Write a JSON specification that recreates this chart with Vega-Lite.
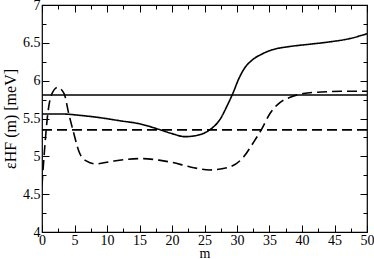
{
  "$schema": "https://vega.github.io/schema/vega-lite/v6.json",
  "width": 325,
  "height": 227,
  "autosize": {"type": "none"},
  "padding": {"left": 42, "top": 5, "right": 7, "bottom": 27},
  "background": "white",
  "config": {
    "view": {"stroke": "black", "strokeWidth": 1.2},
    "font": "Liberation Serif",
    "axis": {
      "domain": false,
      "grid": false,
      "tickColor": "black",
      "tickWidth": 1,
      "labelColor": "black",
      "labelFont": "Liberation Serif",
      "labelFontSize": 14,
      "titleFont": "Liberation Serif",
      "titleColor": "black",
      "titleFontWeight": "normal"
    }
  },
  "data": {
    "values": [
      {"m": 0, "v": 5.56, "series": "A", "style": "solid"},
      {"m": 3, "v": 5.56, "series": "A", "style": "solid"},
      {"m": 6, "v": 5.54, "series": "A", "style": "solid"},
      {"m": 9, "v": 5.51, "series": "A", "style": "solid"},
      {"m": 12, "v": 5.47, "series": "A", "style": "solid"},
      {"m": 15, "v": 5.43, "series": "A", "style": "solid"},
      {"m": 18.2, "v": 5.35, "series": "A", "style": "solid"},
      {"m": 20, "v": 5.3, "series": "A", "style": "solid"},
      {"m": 22, "v": 5.26, "series": "A", "style": "solid"},
      {"m": 24, "v": 5.28, "series": "A", "style": "solid"},
      {"m": 25.8, "v": 5.35, "series": "A", "style": "solid"},
      {"m": 27.4, "v": 5.49, "series": "A", "style": "solid"},
      {"m": 28.6, "v": 5.69, "series": "A", "style": "solid"},
      {"m": 29.4, "v": 5.84, "series": "A", "style": "solid"},
      {"m": 30.3, "v": 6.03, "series": "A", "style": "solid"},
      {"m": 31.2, "v": 6.17, "series": "A", "style": "solid"},
      {"m": 32.3, "v": 6.27, "series": "A", "style": "solid"},
      {"m": 33.8, "v": 6.35, "series": "A", "style": "solid"},
      {"m": 35.5, "v": 6.41, "series": "A", "style": "solid"},
      {"m": 38, "v": 6.45, "series": "A", "style": "solid"},
      {"m": 41, "v": 6.48, "series": "A", "style": "solid"},
      {"m": 44, "v": 6.51, "series": "A", "style": "solid"},
      {"m": 47, "v": 6.55, "series": "A", "style": "solid"},
      {"m": 50, "v": 6.62, "series": "A", "style": "solid"},
      {"m": 0, "v": 4.62, "series": "B", "style": "dashed"},
      {"m": 0.35, "v": 5.04, "series": "B", "style": "dashed"},
      {"m": 0.9, "v": 5.57, "series": "B", "style": "dashed"},
      {"m": 1.4, "v": 5.8, "series": "B", "style": "dashed"},
      {"m": 2.4, "v": 5.91, "series": "B", "style": "dashed"},
      {"m": 3.4, "v": 5.83, "series": "B", "style": "dashed"},
      {"m": 4.1, "v": 5.57, "series": "B", "style": "dashed"},
      {"m": 4.9, "v": 5.3, "series": "B", "style": "dashed"},
      {"m": 5.7, "v": 5.06, "series": "B", "style": "dashed"},
      {"m": 6.8, "v": 4.94, "series": "B", "style": "dashed"},
      {"m": 8.3, "v": 4.9, "series": "B", "style": "dashed"},
      {"m": 10.5, "v": 4.93, "series": "B", "style": "dashed"},
      {"m": 13, "v": 4.96, "series": "B", "style": "dashed"},
      {"m": 15.5, "v": 4.97, "series": "B", "style": "dashed"},
      {"m": 18, "v": 4.95, "series": "B", "style": "dashed"},
      {"m": 20, "v": 4.92, "series": "B", "style": "dashed"},
      {"m": 22.8, "v": 4.86, "series": "B", "style": "dashed"},
      {"m": 25.8, "v": 4.82, "series": "B", "style": "dashed"},
      {"m": 28.9, "v": 4.86, "series": "B", "style": "dashed"},
      {"m": 31, "v": 4.99, "series": "B", "style": "dashed"},
      {"m": 32.5, "v": 5.18, "series": "B", "style": "dashed"},
      {"m": 33.8, "v": 5.36, "series": "B", "style": "dashed"},
      {"m": 35.1, "v": 5.57, "series": "B", "style": "dashed"},
      {"m": 36.6, "v": 5.71, "series": "B", "style": "dashed"},
      {"m": 38.2, "v": 5.78, "series": "B", "style": "dashed"},
      {"m": 40.2, "v": 5.83, "series": "B", "style": "dashed"},
      {"m": 43, "v": 5.85, "series": "B", "style": "dashed"},
      {"m": 46, "v": 5.86, "series": "B", "style": "dashed"},
      {"m": 50, "v": 5.86, "series": "B", "style": "dashed"},
      {"m": 0, "v": 5.81, "series": "C", "style": "solid"},
      {"m": 50, "v": 5.81, "series": "C", "style": "solid"},
      {"m": 0, "v": 5.35, "series": "D", "style": "dashed"},
      {"m": 50, "v": 5.35, "series": "D", "style": "dashed"}
    ]
  },
  "layer": [
    {
      "mark": {"type": "line", "interpolate": "monotone", "color": "black", "strokeWidth": 1.6, "clip": true},
      "encoding": {
        "x": {
          "field": "m", "type": "quantitative",
          "scale": {"domain": [0, 50], "nice": false, "zero": false},
          "axis": {
            "orient": "bottom",
            "values": [0, 2.5, 5, 7.5, 10, 12.5, 15, 17.5, 20, 22.5, 25, 27.5, 30, 32.5, 35, 37.5, 40, 42.5, 45, 47.5, 50],
            "tickSize": {"condition": {"test": "datum.value % 5 === 0", "value": -7}, "value": -4},
            "labelPadding": 8,
            "labelExpr": "datum.value % 5 === 0 ? '' + datum.value : ''",
            "labelOverlap": false,
            "labelFlush": false,
            "title": "m",
            "titleFontSize": 14,
            "titlePadding": -4
          }
        },
        "y": {
          "field": "v", "type": "quantitative",
          "scale": {"domain": [4, 7], "nice": false, "zero": false},
          "axis": {
            "orient": "left",
            "values": [4, 4.25, 4.5, 4.75, 5, 5.25, 5.5, 5.75, 6, 6.25, 6.5, 6.75, 7],
            "tickSize": {"condition": {"test": "datum.value % 0.5 === 0", "value": -7}, "value": -4},
            "labelPadding": 9,
            "labelExpr": "datum.value % 0.5 === 0 ? '' + datum.value : ''",
            "labelOverlap": false,
            "labelFlush": false,
            "title": "εHF (m) [meV]",
            "titleFontSize": 16,
            "titlePadding": 4
          }
        },
        "detail": {"field": "series"},
        "strokeDash": {
          "field": "style", "type": "nominal",
          "scale": {"domain": ["solid", "dashed"], "range": [[1, 0], [10, 5]]},
          "legend": null
        }
      }
    },
    {
      "mark": {"type": "line", "opacity": 0},
      "encoding": {
        "x": {
          "field": "m", "type": "quantitative",
          "axis": {
            "orient": "top",
            "values": [0, 2.5, 5, 7.5, 10, 12.5, 15, 17.5, 20, 22.5, 25, 27.5, 30, 32.5, 35, 37.5, 40, 42.5, 45, 47.5, 50],
            "tickSize": {"condition": {"test": "datum.value % 5 === 0", "value": -7}, "value": -4},
            "labels": false,
            "title": null
          }
        },
        "y": {
          "field": "v", "type": "quantitative",
          "axis": {
            "orient": "right",
            "values": [4, 4.25, 4.5, 4.75, 5, 5.25, 5.5, 5.75, 6, 6.25, 6.5, 6.75, 7],
            "tickSize": {"condition": {"test": "datum.value % 0.5 === 0", "value": -7}, "value": -4},
            "labels": false,
            "title": null
          }
        },
        "detail": {"field": "series"}
      }
    }
  ],
  "resolve": {"axis": {"x": "independent", "y": "independent"}}
}
